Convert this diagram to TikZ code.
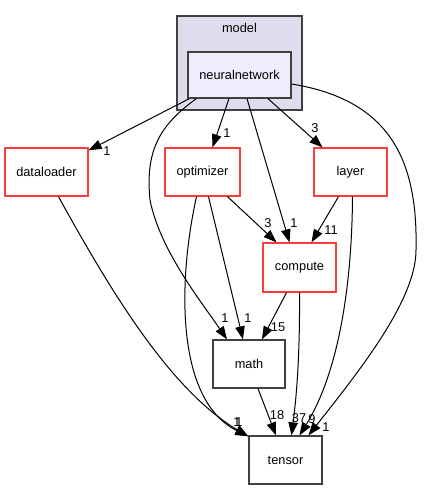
\documentclass[tikz,border=0pt]{standalone}
\usepackage{fontspec}
\setmainfont{Liberation Sans}
\usetikzlibrary{arrows.meta,calc}
\definecolor{clusterfill}{RGB}{221,221,238}
\definecolor{dirfill}{RGB}{238,238,255}
\definecolor{dirred}{RGB}{255,60,60}
\definecolor{dirgray}{RGB}{64,64,64}
\tikzset{
	dir/.style={draw=dirred, line width=1.3pt, fill=white, inner sep=0pt, font=\fontsize{12.8}{15}\selectfont},
	leaf/.style={dir, draw=dirgray},
	dep/.style={line width=1pt, -{Triangle[length=13pt,width=9.5pt]}},
	lbl/.style={inner sep=0pt, font=\fontsize{12.8}{15}\selectfont}
}
\begin{document}
\begin{tikzpicture}[x=1pt,y=-1pt]
	\useasboundingbox (0,0) rectangle (424,489);
	\node[leaf, fill=clusterfill, minimum width=125pt, minimum height=94pt] (model) at (239.5,63) {};
	\node[lbl] (modeltitle) at (239.5,28) {model};
	\node[leaf, fill=dirfill, minimum width=103pt, minimum height=46pt] (nn) at (239.5,75) {neuralnetwork};
	\node[dir, minimum width=83pt, minimum height=48pt] (dataloader) at (46.5,172) {dataloader};
	\node[dir, minimum width=75pt, minimum height=48pt] (optimizer) at (202.5,172) {optimizer};
	\node[dir, minimum width=73pt, minimum height=48pt] (layer) at (350.5,172) {layer};
	\node[dir, minimum width=73pt, minimum height=49pt] (compute) at (299.5,267.5) {compute};
	\node[leaf, minimum width=72pt, minimum height=48pt] (math) at (249,364) {math};
	\node[leaf, minimum width=73pt, minimum height=48pt] (tensor) at (285.5,460) {tensor};

	\draw[dep] ($(nn.south west)+(2,0)$) -- ($(dataloader.north east)+(0,3)$) node[lbl] (ldataloader) at (107,151) {1};
	\draw[dep] ($(nn.south)+(-10.5,0)$) -- ($(optimizer.north)+(10,0)$) node[lbl] (loptimizer) at (227,133) {1};
	\draw[dep] ($(nn.south)+(28.5,0)$) -- ($(layer.north)+(-28,0)$) node[lbl] (llayer) at (315,128) {3};
	\draw[dep] ($(nn.south)+(7.5,0)$) -- ($(compute.north)+(-10,0)$) node[lbl] (lnncompute) at (294,223) {1};
	\draw[dep] ($(nn.south west)+(9,0)$) .. controls (160,125) and (145,150) .. (150,200) .. controls (160,250) and (200,300) .. ($(math.north)+(-22,0)$) node[lbl] (lnnmath) at (225,318) {1};
	\draw[dep] ($(nn.east)+(0,9)$) .. controls (390,100) and (418,160) .. (416,250) .. controls (416,300) and (360,370) .. ($(tensor.north)+(23,0)$) node[lbl] (lnntensor) at (326,427) {1};

	\draw[dep] ($(dataloader.south)+(12,0)$) .. controls (110,290) and (170,390) .. ($(tensor.north west)+(0,1)$) node[lbl] (ldataloadertensor) at (237,422) {1};
	\draw[dep] ($(optimizer.south)+(-6,0)$) .. controls (178,280) and (175,400) .. ($(tensor.north west)+(0,1)$) node[lbl] (loptimizertensor) at (239,422) {1};
	\draw[dep] ($(optimizer.south)+(6,0)$) -- ($(math.north)+(-6,0)$) node[lbl] (loptimizermath) at (248,318) {1};
	\draw[dep] ($(optimizer.south)+(25,0)$) -- ($(compute.north)+(-23,0)$) node[lbl] (loptimizercompute) at (268,223) {3};

	\draw[dep] ($(layer.south)+(-12,0)$) -- ($(compute.north)+(12,0)$) node[lbl] (llayercompute) at (331,230) {11};
	\draw[dep] ($(layer.south)+(2,0)$) .. controls (352,280) and (340,370) .. ($(tensor.north)+(14,0)$) node[lbl] (llayertensor) at (312,419) {9};

	\draw[dep] ($(compute.south)+(-13,0)$) -- ($(math.north)+(13,0)$) node[lbl] (lcomputemath) at (278,327) {15};
	\draw[dep] (compute.south) .. controls (300,360) and (296,400) .. ($(tensor.north)+(6,0)$) node[lbl] (lcomputetensor) at (299,418) {37};
	\draw[dep] ($(math.south)+(9,0)$) -- ($(tensor.north)+(-9.5,0)$) node[lbl] (lmathtensor) at (277,415) {18};
\end{tikzpicture}
\end{document}
